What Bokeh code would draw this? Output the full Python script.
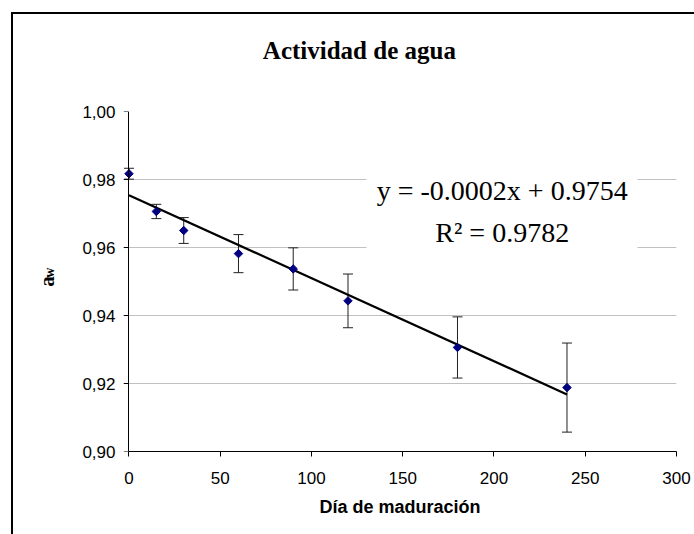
import math
from bokeh.plotting import figure
from bokeh.models import (ColumnDataSource, Whisker, TeeHead, FixedTicker, Label,
                          BoxAnnotation, Range1d, LinearAxis)
from bokeh.embed import file_html
from bokeh.resources import INLINE

# ---- data ----
dias = [0, 15, 30, 60, 90, 120, 180, 240]
aw = [0.9817, 0.9706, 0.9650, 0.9582, 0.9537, 0.9443, 0.9306, 0.9188]
aw_err = [0.0016, 0.0021, 0.0038, 0.0056, 0.0062, 0.0079, 0.0090, 0.0131]
trend_x = [0, 240]
trend_y = [0.9754, 0.9168]
x_ticks = [0, 50, 100, 150, 200, 250, 300]
y_ticks = [0.90, 0.92, 0.94, 0.96, 0.98, 1.00]
y_tick_labels = ["0,90", "0,92", "0,94", "0,96", "0,98", "1,00"]
title_text = "Actividad de agua"
x_title = "Día de maduración"
y_title_main = "a"
y_title_sub = "w"
eq_text = "y = -0.0002x + 0.9754"
r2_text = "R² = 0.9782"

NBSP = "\u00a0"

src = ColumnDataSource(dict(
    x=dias, y=aw,
    upper=[v + e for v, e in zip(aw, aw_err)],
    lower=[v - e for v, e in zip(aw, aw_err)],
))

p = figure(width=694, height=534, output_backend="svg", toolbar_location=None,
           x_range=Range1d(-3, 300), y_range=Range1d(0.90, 1.00),
           min_border_left=123, min_border_right=18, min_border_top=111,
           min_border_bottom=83)
p.outline_line_color = None
p.background_fill_color = "white"
p.border_fill_color = "white"
# outer chart frame (only its left and top edges fall inside the window)
p.stylesheets = [
    ":host { position: relative; }"
    ":host::before { content: ''; position: absolute; left: 11px; top: 12px;"
    " right: 0px; bottom: 0px; border-left: 2px solid black;"
    " border-top: 2px solid black; pointer-events: none; z-index: 100; }"
]

p.xgrid.visible = False
p.ygrid.grid_line_color = "#c0c0c0"
p.ygrid.grid_line_width = 1

# x axis
xa = p.xaxis[0]
xa.ticker = FixedTicker(ticks=x_ticks)
xa.bounds = (x_ticks[0], x_ticks[-1])
xa.axis_line_color = "black"
xa.major_tick_line_color = "black"
xa.major_tick_out = 5
xa.major_tick_in = 0
xa.minor_tick_line_color = None
xa.major_label_text_font = "Liberation Sans"
xa.major_label_text_font_size = "17px"
xa.major_label_text_color = "black"
xa.major_label_standoff = 15
xa.axis_label = x_title
xa.axis_label_text_font = "Liberation Sans"
xa.axis_label_text_font_style = "bold"
xa.axis_label_text_font_size = "18px"
xa.axis_label_text_color = "black"
xa.axis_label_standoff = 10

# y axis tick labels (at the frame edge)
ya = p.yaxis[0]
ya.ticker = FixedTicker(ticks=y_ticks)
ya.major_label_overrides = {t: s for t, s in zip(y_ticks, y_tick_labels)}
ya.axis_line_color = None
ya.major_tick_line_color = None
ya.major_tick_out = 0
ya.major_tick_in = 0
ya.minor_tick_line_color = None
ya.major_label_text_font = "Liberation Sans"
ya.major_label_text_font_size = "17px"
ya.major_label_text_color = "black"
ya.major_label_standoff = 8

# y axis line and ticks drawn at x = 0 (labels not drawn)
yline = LinearAxis(ticker=FixedTicker(ticks=y_ticks), fixed_location=0,
                   axis_line_color="black", major_tick_line_color="black",
                   major_tick_in=5, major_tick_out=0, minor_tick_line_color=None,
                   major_label_text_font_size="1px", major_label_text_color=None,
                   major_label_standoff=0)
p.add_layout(yline, "right")

# y axis title a_w
ax_w = LinearAxis(ticker=FixedTicker(ticks=[]),
                  axis_line_color=None, major_tick_line_color=None,
                  minor_tick_line_color=None, major_tick_out=0, major_tick_in=0,
                  major_label_standoff=0, axis_label=NBSP * 5 + y_title_sub,
                  axis_label_text_font="Liberation Serif",
                  axis_label_text_font_style="bold",
                  axis_label_text_font_size="14px", axis_label_text_color="black",
                  axis_label_standoff=23)
p.add_layout(ax_w, "left")
ax_a = LinearAxis(ticker=FixedTicker(ticks=[]),
                  axis_line_color=None, major_tick_line_color=None,
                  minor_tick_line_color=None, major_tick_out=0, major_tick_in=0,
                  major_label_standoff=0, axis_label=y_title_main,
                  axis_label_text_font="Liberation Serif",
                  axis_label_text_font_style="bold",
                  axis_label_text_font_size="21px", axis_label_text_color="black",
                  axis_label_standoff=-20)
p.add_layout(ax_a, "left")

# chart title (trailing no-break spaces shift it left of the plot-area centre)
ax_t = LinearAxis(ticker=FixedTicker(ticks=[]),
                  axis_line_color=None, major_tick_line_color=None,
                  minor_tick_line_color=None, major_tick_out=0, major_tick_in=0,
                  major_label_standoff=0, axis_label=title_text + NBSP * 13,
                  axis_label_text_font="Liberation Serif",
                  axis_label_text_font_style="bold",
                  axis_label_text_font_size="25px", axis_label_text_color="black",
                  axis_label_standoff=48)
p.add_layout(ax_t, "above")

# error bars
w = Whisker(source=src, base="x", upper="upper", lower="lower", dimension="height",
            line_color="#222222", line_width=1,
            upper_head=TeeHead(size=10, line_color="#222222", line_width=1),
            lower_head=TeeHead(size=10, line_color="#222222", line_width=1))
p.add_layout(w)

# trend line
p.line(trend_x, trend_y, line_color="black", line_width=2.2)

# markers
p.scatter("x", "y", source=src, marker="square", angle=math.pi / 4, size=6,
          fill_color="#000080", line_color="#000080")

# white box behind the trend-line equation (frame-relative pixels)
p.add_layout(BoxAnnotation(left=243, right=514, top=291, bottom=201,
                           left_units="screen", right_units="screen",
                           top_units="screen", bottom_units="screen",
                           fill_color="white", fill_alpha=1, line_color=None))
lab_common = dict(x_units="screen", y_units="screen", text_color="black",
                  text_align="center", text_baseline="alphabetic",
                  text_font="Liberation Serif", text_font_size="28px")
p.add_layout(Label(x=378.7, y=261, text=eq_text, **lab_common))
p.add_layout(Label(x=378.7, y=218.7, text=r2_text, **lab_common))

open("out.html", "w").write(file_html(p, INLINE))
